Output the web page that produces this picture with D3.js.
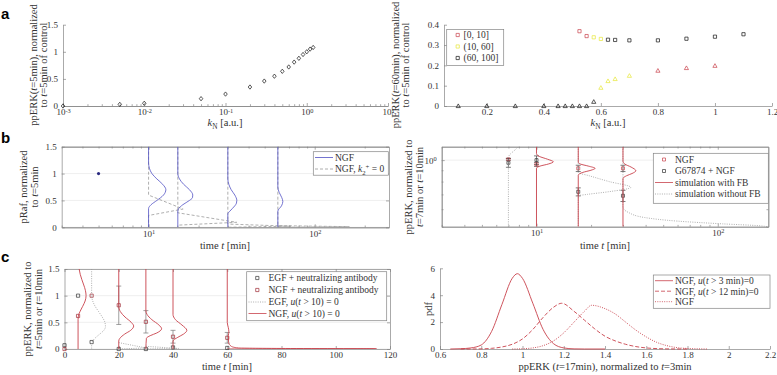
<!DOCTYPE html>
<html>
<head>
<meta charset="utf-8">
<script src="https://cdn.jsdelivr.net/npm/d3@7"></script>
<style>
  body { margin: 0; background: #fff; }
  svg { font-family: "Liberation Serif", "DejaVu Serif", serif; }
</style>
</head>
<body>
<svg id="fig" width="777" height="375"></svg>
<script>
/* ---------- DATA ---------- */
// a, left: ppERK(t=5min) vs kN
const aL_k = [0.001, 0.005, 0.01, 0.05, 0.1, 0.2, 0.3, 0.4, 0.5, 0.6, 0.7, 0.8, 0.9, 1.0, 1.1, 1.2];
const aL_v = [0, 0.03, 0.05, 0.135, 0.22, 0.35, 0.46, 0.55, 0.64, 0.72, 0.81, 0.88, 0.95, 1.0, 1.05, 1.08];

// a, right: ppERK(t=60min) vs kN, class 0=[0,10] 1=(10,60] 2=(60,100]
const aR_classes = ["[0, 10]", "(10, 60]", "(60, 100]"];
const aR_sqK = [0.525, 0.55, 0.575, 0.6, 0.625, 0.65, 0.7, 0.8, 0.9, 1.0, 1.1];
const aR_sqV = [0.368, 0.344, 0.338, 0.33, 0.326, 0.325, 0.323, 0.323, 0.331, 0.341, 0.353];
const aR_sqC = [0, 0, 1, 1, 2, 2, 2, 2, 2, 2, 2];
const aR_trK = [0.1, 0.2, 0.3, 0.4, 0.45, 0.475, 0.5, 0.525, 0.55, 0.575, 0.6, 0.625, 0.65, 0.7, 0.8, 0.9, 1.0];
const aR_trV = [0, 0, 0, 0, 0, 0, 0, 0, 0, 0.021, 0.09, 0.123, 0.133, 0.149, 0.174, 0.187, 0.198];
const aR_trC = [2, 2, 2, 2, 2, 2, 2, 2, 2, 2, 1, 1, 1, 1, 0, 0, 0];

// b, left: pRaf densities (v = value, w = width in decades of time)
const bL_dotT = [5], bL_dotV = [1];
const bL_ngf = [
  {t: 10, v: [1.5, 1.2, 1.1, 1.0, 0.9, 0.8, 0.7, 0.6, 0.5, 0.42, 0.35, 0], w: [0, 0, 0.005, 0.02, 0.05, 0.085, 0.104, 0.09, 0.05, 0.015, 0, 0]},
  {t: 15, v: [1.5, 1.0, 0.9, 0.8, 0.7, 0.6, 0.55, 0.5, 0.42, 0.35, 0.3, 0], w: [0, 0, 0.01, 0.035, 0.07, 0.09, 0.088, 0.07, 0.03, 0.005, 0, 0]},
  {t: 30, v: [1.5, 0.9, 0.8, 0.7, 0.6, 0.5, 0.45, 0.4, 0.3, 0.25, 0], w: [0, 0, 0.006, 0.02, 0.042, 0.054, 0.052, 0.042, 0.012, 0, 0]},
  {t: 60, v: [1.5, 0.75, 0.65, 0.55, 0.48, 0.4, 0.3, 0], w: [0, 0, 0.008, 0.024, 0.03, 0.022, 0, 0]}
];
const bL_k0 = [
  {t: 10, v: [1.5, 0.6, 0.34, 0.22, 0], w: [0, 0, 0.208, 0, 0]},
  {t: 15, v: [1.5, 0.27, 0.093, 0.04, 0], w: [0, 0, 0.354, 0, 0]},
  {t: 30, v: [1.5, 0.06, 0.02, 0], w: [0, 0, 0.38, 0]},
  {t: 60, v: [1.5, 0.03, 0.012, 0], w: [0, 0, 0.43, 0]}
];

// b, right: ppERK data and simulations
const bR_t = [7, 10, 17, 30];
const bR_ngf = [1.008, 0.957, 0.918, 0.918];
const bR_ngfErr = [0.01, 0.02, 0.03, 0.03];
const bR_g67 = [0.973, 1.0, 0.719, 0.69];
const bR_g67Err = [0.045, 0.045, 0.03, 0.04];
const bR_fb = [
  {t: 10, v: [1.15, 1.07, 1.04, 1.01, 0.983, 0.96, 0.94, 0.92, 0.5], w: [0, 0, 0.015, 0.06, 0.093, 0.065, 0.02, 0, 0]},
  {t: 17, v: [1.15, 0.98, 0.96, 0.94, 0.918, 0.9, 0.88, 0.855, 0.5], w: [0, 0, 0.012, 0.055, 0.093, 0.07, 0.025, 0, 0]},
  {t: 30, v: [1.15, 0.99, 0.96, 0.93, 0.895, 0.87, 0.85, 0.825, 0.5], w: [0, 0, 0.01, 0.045, 0.071, 0.05, 0.02, 0, 0]}
];
const bR_nofb = [
  {t: 7, v: [1.3, 1.2, 1.15, 1.1, 1.06, 1.03, 0.5], w: [0.07, 0.075, 0.055, 0.03, 0.008, 0, 0]},
  {t: 17, v: [1.15, 0.88, 0.85, 0.8, 0.753, 0.72, 0.7, 0.69, 0.5], w: [0, 0, 0.06, 0.17, 0.29, 0.17, 0.05, 0, 0]},
  {t: 30, v: [1.15, 0.62, 0.6, 0.58, 0.55, 0.53, 0.515, 0.505, 0.48, 0.45], w: [0, 0, 0.005, 0.03, 0.12, 0.3, 0.55, 0.75, 0.9, 0.95]}
];

// c, left: ppERK after neutralizing antibody (width w in minutes)
const cL_t = [0, 5, 10, 20, 30, 40, 60];
const cL_egf = [0.07, 1.0, 0.13, 0, 0, 0.03, 0.02];
const cL_egfErr = [0, 0, 0, 0, 0, 0, 0];
const cL_ngf = [0, 0.62, 1.0, 0.82, 0.51, 0.23, 0.21];
const cL_ngfErr = [0, 0, 0, 0.36, 0.21, 0.12, 0.1];
const cL_simNgf = [
  {t: 5, v: [1.5, 1.4, 1.3, 1.2, 1.1, 1.0, 0.9, 0.8, 0.7, 0.62, 0.55, 0], w: [0.4, 0.8, 1.4, 2.1, 2.7, 2.95, 2.6, 1.7, 0.7, 0.1, 0, 0]},
  {t: 20, v: [1.5, 0.8, 0.7, 0.6, 0.5, 0.43, 0.35, 0.28, 0.2, 0.15, 0], w: [0, 0, 0.6, 2.3, 4.6, 5.5, 4.4, 2.2, 0.4, 0, 0]},
  {t: 30, v: [1.5, 0.72, 0.65, 0.55, 0.45, 0.38, 0.3, 0.25, 0.2, 0], w: [0, 0, 0.4, 2.2, 4.8, 5.8, 4.0, 1.6, 0.2, 0]},
  {t: 40, v: [1.5, 0.65, 0.55, 0.45, 0.35, 0.28, 0.22, 0.15, 0], w: [0, 0, 0.9, 3.3, 5.1, 3.9, 1.8, 0, 0]},
  {t: 60, v: [1.5, 0.5, 0.4, 0.32, 0.25, 0.12, 0.05, 0.02, 0.01, 0.004, 0], w: [0, 0, 0.4, 0.6, 0.4, 0.5, 1.5, 4, 20, 55, 0]}
];
const cL_simEgf = [
  {t: 10, v: [1.5, 1.0, 0.9, 0.8, 0.7, 0.6, 0.5, 0.42, 0.35, 0.28, 0.2, 0.15, 0.1, 0], w: [0, 0, 0.4, 1.3, 2.6, 3.9, 4.9, 5.1, 4.5, 3.0, 1.2, 0.4, 0, 0]},
  {t: 20, v: [0.12, 0.02, 0], w: [0, 10, 0]},
  {t: 30, v: [0.05, 0.01, 0], w: [0, 12, 0]}
];

// c, right: pdf of ppERK(t=17min)
const cR_x1 = [0.65, 0.7, 0.75, 0.8, 0.85, 0.9, 0.95, 0.975, 1.0, 1.05, 1.1, 1.15, 1.2, 1.25, 1.3, 1.4];
const cR_y1 = [0, 0.02, 0.08, 0.3, 1.3, 3.3, 5.25, 5.6, 5.25, 3.4, 1.45, 0.4, 0.08, 0.01, 0, 0];
const cR_x2 = [0.7, 0.8, 0.85, 0.9, 0.95, 1.0, 1.05, 1.1, 1.15, 1.19, 1.25, 1.3, 1.35, 1.4, 1.45, 1.5, 1.55, 1.6, 1.7, 1.8];
const cR_y2 = [0, 0.01, 0.05, 0.15, 0.35, 0.75, 1.45, 2.35, 3.1, 3.4, 2.8, 2.15, 1.5, 0.95, 0.6, 0.35, 0.18, 0.08, 0.01, 0];
const cR_x3 = [0.95, 1.0, 1.05, 1.1, 1.15, 1.2, 1.25, 1.3, 1.335, 1.4, 1.45, 1.5, 1.55, 1.6, 1.65, 1.7, 1.75, 1.8, 1.9];
const cR_y3 = [0, 0.02, 0.08, 0.25, 0.6, 1.2, 2.0, 2.8, 3.25, 3.0, 2.6, 2.0, 1.4, 0.9, 0.5, 0.25, 0.1, 0.04, 0];
const cR_labels = ["NGF, *u*(*t* > 3 min)=0", "NGF, *u*(*t* > 12 min)=0", "NGF"];

/* ---------- HELPERS ---------- */
const svg = d3.select("#fig");
const TXT = "#333", AX = "#858585";
const RED = "#c8414b", DRED = "#9e2a33", YEL = "#e6e637", BLUE = "#5050c4", GRY = "#9a9a9a";
const FT = 9, FL = 9.5, FX = 10.5;   // tick, legend, axis-label font sizes

function styleAxis(g) {
  g.attr("font-family", null).attr("font-size", FT);
  g.select(".domain").attr("stroke", AX).attr("stroke-width", 0.7);
  g.selectAll(".tick line").attr("stroke", AX).attr("stroke-width", 0.7);
  g.selectAll(".tick text").attr("fill", TXT);
}
function pow10(g) {
  g.selectAll(".tick text").each(function(d) {
    const e = Math.round(Math.log10(d));
    const t = d3.select(this).text("10");
    t.append("tspan").attr("dy", "-0.45em").attr("font-size", "0.7em").text(e);
  });
}
function frame(g, x, y, o) {
  const [yb, yt] = y.range();
  const x0 = x.range()[0], x1 = x.range()[1];
  if (o.grid) o.yMajor.forEach(v => g.append("line").attr("x1", x0).attr("x2", x1).attr("y1", y(v)).attr("y2", y(v))
    .attr("stroke", "#e4e4e4").attr("stroke-width", 0.6));
  const mk = (gen, tr, vals, size, fmt, pad) => {
    const a = g.append("g").attr("transform", tr)
      .call(gen.tickValues(vals).tickSizeInner(size).tickSizeOuter(0).tickPadding(pad).tickFormat(fmt));
    styleAxis(a);
    return a;
  };
  const none = () => "";
  const bx = mk(d3.axisBottom(x), `translate(0,${yb})`, o.xMajor, -3, o.xLog ? none : (d => String(d)), o.xLog ? 3 : 2.2);
  if (o.xLog) pow10(bx);
  if (o.xMinor) mk(d3.axisBottom(x), `translate(0,${yb})`, o.xMinor, -1.8, none, 0);
  const ly = mk(d3.axisLeft(y), `translate(${x0},0)`, o.yMajor, -3, o.yLog ? none : (d => String(d)), 5);
  if (o.yLog) pow10(ly);
  if (o.yMinor) mk(d3.axisLeft(y), `translate(${x0},0)`, o.yMinor, -1.8, none, 0);
  if (o.box) {
    mk(d3.axisTop(x), `translate(0,${yt})`, o.xMajor, -3, none, 0);
    if (o.xMinor) mk(d3.axisTop(x), `translate(0,${yt})`, o.xMinor, -1.8, none, 0);
    mk(d3.axisRight(y), `translate(${x1},0)`, o.yMajor, -3, none, 0);
    if (o.yMinor) mk(d3.axisRight(y), `translate(${x1},0)`, o.yMinor, -1.8, none, 0);
  }
}
function rich(g, x, y, str, fs, rot, anchor) {
  const t = g.append("text").attr("fill", TXT).attr("font-size", fs).attr("text-anchor", anchor || "middle");
  if (rot) t.attr("transform", `translate(${x},${y}) rotate(-90)`);
  else t.attr("x", x).attr("y", y);
  let shift = rot ? -0.35 * fs : 0;
  str.split(/(\*[^*]+\*|_\{[^}]+\}|\^\{[^}]+\})/).filter(s => s).forEach(s => {
    const sp = t.append("tspan");
    let target = 0, txt = s;
    if (s[0] === "*") { txt = s.slice(1, -1); sp.attr("font-style", "italic"); }
    else if (s[0] === "_") { txt = s.slice(2, -1); target = 0.3 * fs; sp.attr("font-size", fs * 0.7); }
    else if (s[0] === "^") { txt = s.slice(2, -1); target = -0.4 * fs; sp.attr("font-size", fs * 0.7); }
    sp.attr("dy", target - shift).text(txt);
    shift = target;
  });
  return t;
}
function clip(id, x, y) {
  const [xa, xb] = x.range(), [ya, yb] = y.range();
  svg.append("clipPath").attr("id", id).append("rect")
    .attr("x", xa).attr("y", yb).attr("width", xb - xa).attr("height", ya - yb);
  return svg.append("g").attr("clip-path", `url(#${id})`);
}
function violin(g, x, y, d, logX, color, dash, width, curve) {
  const pts = d.v.map((v, i) => [logX ? x(d.t * Math.pow(10, d.w[i])) : x(d.t + d.w[i]), y(v)]);
  g.append("path").attr("d", d3.line().curve(curve || d3.curveMonotoneY)(pts))
    .attr("fill", "none").attr("stroke", color).attr("stroke-width", width || 0.8)
    .attr("stroke-dasharray", dash || null);
}
function marker(g, type, cx, cy, color, s) {
  s = s || 1.7;
  let p;
  if (type === "sq") p = `M${cx - s},${cy - s}h${2 * s}v${2 * s}h${-2 * s}Z`;
  else if (type === "tri") p = `M${cx},${cy - s * 1.3}L${cx + s * 1.3},${cy + s}L${cx - s * 1.3},${cy + s}Z`;
  else p = `M${cx},${cy - s * 1.35}L${cx + s * 1.1},${cy}L${cx},${cy + s * 1.35}L${cx - s * 1.1},${cy}Z`;
  g.append("path").attr("d", p).attr("fill", "none").attr("stroke", color).attr("stroke-width", 0.7);
}
function errbar(g, cx, y, v, e, color) {
  if (!e) return;
  const a = y(v + e), b = y(Math.max(v - e, 1e-3));
  g.append("line").attr("x1", cx).attr("x2", cx).attr("y1", a).attr("y2", b).attr("stroke", color).attr("stroke-width", 0.7);
  [a, b].forEach(yy => g.append("line").attr("x1", cx - 2.5).attr("x2", cx + 2.5).attr("y1", yy).attr("y2", yy)
    .attr("stroke", color).attr("stroke-width", 0.7));
}
function legendBox(x, y, w, h) {
  svg.append("rect").attr("x", x).attr("y", y).attr("width", w).attr("height", h)
    .attr("fill", "#fff").attr("stroke", AX).attr("stroke-width", 0.7);
}
function legLine(x, y, color, dash) {
  svg.append("line").attr("x1", x).attr("x2", x + 18).attr("y1", y).attr("y2", y)
    .attr("stroke", color).attr("stroke-width", 0.8).attr("stroke-dasharray", dash || null);
}
const logTicks = (a, b) => { const r = []; for (let e = a; e < b; e++) for (let m = 2; m <= 9; m++) r.push(m * Math.pow(10, e)); return r; };

/* ---------- PANEL LETTERS ---------- */
[["a", 19], ["b", 143], ["c", 262]].forEach(([l, yy]) =>
  svg.append("text").attr("x", 1).attr("y", yy).attr("font-family", "Liberation Sans, Arial, sans-serif")
    .attr("font-weight", "bold").attr("font-size", 15).attr("fill", "#000").text(l));

/* ---------- a, left ---------- */
{
  const x = d3.scaleLog().domain([1e-3, 1e1]).range([63, 388]);
  const y = d3.scaleLinear().domain([0, 1.5]).range([106, 24.7]);
  const g = svg.append("g");
  frame(g, x, y, {xMajor: [1e-3, 1e-2, 1e-1, 1, 10], xMinor: logTicks(-3, 1), xLog: true, yMajor: [0, 0.5, 1, 1.5]});
  aL_k.forEach((k, i) => marker(g, "dia", x(k), y(aL_v[i]), "#111", 1.6));
  rich(svg, 225, 126, "*k*_{N} [a.u.]", FX);
  rich(svg, 33.5, 65, "ppERK(*t*=5min), normalized", FX, true);
  rich(svg, 43.5, 65, "to *t*=5min of control", FX, true);
}

/* ---------- a, right ---------- */
{
  const x = d3.scaleLinear().domain([0.05, 1.2]).range([444, 772]);
  const y = d3.scaleLinear().domain([0, 0.4]).range([106, 24.7]);
  const g = svg.append("g");
  const cols = [RED, YEL, "#111"];
  frame(g, x, y, {xMajor: [0.2, 0.4, 0.6, 0.8, 1, 1.2], yMajor: [0, 0.1, 0.2, 0.3, 0.4]});
  aR_trK.forEach((k, i) => marker(g, "tri", x(k), y(aR_trV[i]), cols[aR_trC[i]], 1.6));
  aR_sqK.forEach((k, i) => marker(g, "sq", x(k), y(aR_sqV[i]), cols[aR_sqC[i]], 1.6));
  legendBox(446.7, 29.5, 57, 36);
  aR_classes.forEach((c, i) => {
    marker(svg, "sq", 457.7, 35 + i * 11.5, cols[i], 1.6);
    rich(svg, 463.5, 38.3 + i * 11.5, c, FL, false, "start");
  });
  rich(svg, 608, 126, "*k*_{N} [a.u.]", FX);
  rich(svg, 395.5, 65, "ppERK(*t*=60min), normalized", FX, true);
  rich(svg, 405.5, 65, "to *t*=5min of control", FX, true);
}

/* ---------- b, left ---------- */
{
  const x = d3.scaleLog().domain([3, 280]).range([61.7, 389]);
  const y = d3.scaleLinear().domain([0, 1.5]).range([227.3, 146.7]);
  const g = svg.append("g");
  frame(g, x, y, {xMajor: [10, 100], xMinor: [3, 4, 5, 6, 7, 8, 9, 20, 30, 40, 50, 60, 70, 80, 90, 200], xLog: true,
    yMajor: [0, 0.5, 1, 1.5], box: true, grid: true});
  const c = clip("clipBL", x, y);
  bL_k0.forEach(d => violin(c, x, y, d, true, GRY, "3,2", 0.8, d3.curveLinear));
  bL_ngf.forEach(d => violin(c, x, y, d, true, BLUE, null, 0.8));
  bL_dotT.forEach((t, i) => c.append("circle").attr("cx", x(t)).attr("cy", y(bL_dotV[i])).attr("r", 1.6).attr("fill", "#2a2a80"));
  legendBox(313.3, 151.7, 75, 23.5);
  legLine(315, 157.5, BLUE); rich(svg, 335, 160.8, "NGF", FL, false, "start");
  legLine(315, 169, GRY, "3,2"); rich(svg, 335, 172.3, "NGF, *k*_{2}^{+} = 0", FL, false, "start");
  rich(svg, 225, 248.5, "time *t* [min]", FX);
  rich(svg, 23.5, 187, "pRaf, normalized", FX, true);
  rich(svg, 34, 187, "to *t*=5min", FX, true);
}

/* ---------- b, right ---------- */
{
  const x = d3.scaleLog().domain([3, 190]).range([441.7, 768.3]);
  const y = d3.scaleLog().domain([0.5, 1.15]).range([226.7, 146.7]);
  const g = svg.append("g");
  frame(g, x, y, {xMajor: [10, 100], xMinor: [3, 4, 5, 6, 7, 8, 9, 20, 30, 40, 50, 60, 70, 80, 90], xLog: true,
    yMajor: [1], yMinor: [0.5, 0.6, 0.7, 0.8, 0.9], yLog: true, box: true, grid: true});
  const c = clip("clipBR", x, y);
  bR_nofb.forEach(d => violin(c, x, y, d, true, GRY, "1,1.3", 0.8));
  bR_fb.forEach(d => violin(c, x, y, d, true, RED, null, 0.9));
  bR_t.forEach((t, i) => {
    errbar(g, x(t), y, bR_ngf[i], bR_ngfErr[i], "#444");
    errbar(g, x(t), y, bR_g67[i], bR_g67Err[i], "#444");
    marker(g, "sq", x(t), y(bR_ngf[i]), RED, 1.5);
    marker(g, "sq", x(t), y(bR_g67[i]), "#333", 1.5);
  });
  legendBox(653.3, 153.3, 115, 50);
  marker(svg, "sq", 664, 159.5, RED, 1.5); rich(svg, 675, 162.8, "NGF", FL, false, "start");
  marker(svg, "sq", 664, 171, "#333", 1.5); rich(svg, 675, 174.3, "G67874 + NGF", FL, false, "start");
  legLine(655, 182.5, RED); rich(svg, 675, 185.8, "simulation with FB", FL, false, "start");
  legLine(655, 194, GRY, "1,1.3"); rich(svg, 675, 197.3, "simulation without FB", FL, false, "start");
  rich(svg, 605, 248.5, "time *t* [min]", FX);
  rich(svg, 408.5, 187, "ppERK, normalized to", FX, true);
  rich(svg, 419, 187, "*t*=7min or *t*=10min", FX, true);
}

/* ---------- c, left ---------- */
{
  const x = d3.scaleLinear().domain([0, 120]).range([64.5, 390]);
  const y = d3.scaleLinear().domain([0, 1.5]).range([349, 269]);
  const g = svg.append("g");
  frame(g, x, y, {xMajor: [0, 20, 40, 60, 80, 100, 120], yMajor: [0, 0.5, 1, 1.5], box: true, grid: true});
  const c = clip("clipCL", x, y);
  cL_simEgf.forEach(d => violin(c, x, y, d, false, GRY, "1,1.3", 0.8, d.v.length < 4 ? d3.curveLinear : d3.curveMonotoneY));
  cL_simNgf.forEach(d => violin(c, x, y, d, false, RED, null, 0.9));
  cL_t.forEach((t, i) => {
    errbar(g, x(t), y, cL_ngf[i], cL_ngfErr[i], "#777");
    errbar(g, x(t), y, cL_egf[i], cL_egfErr[i], "#777");
    marker(g, "sq", x(t), y(cL_egf[i]), "#333", 1.6);
    marker(g, "sq", x(t), y(cL_ngf[i]), DRED, 1.6);
  });
  legendBox(246.7, 271.7, 140, 49);
  marker(svg, "sq", 257.3, 278, "#333", 1.6); rich(svg, 268.5, 281.3, "EGF + neutralizing antibody", FL, false, "start");
  marker(svg, "sq", 257.3, 290, DRED, 1.6); rich(svg, 268.5, 293.3, "NGF + neutralizing antibody", FL, false, "start");
  legLine(248.5, 302, GRY, "1,1.3"); rich(svg, 268.5, 305.3, "EGF, *u*(*t* > 10) = 0", FL, false, "start");
  legLine(248.5, 313.5, RED); rich(svg, 268.5, 316.8, "NGF, *u*(*t* > 10) = 0", FL, false, "start");
  rich(svg, 227, 370, "time *t* [min]", FX);
  rich(svg, 27.5, 309, "ppERK, normalized to", FX, true);
  rich(svg, 38, 309, "*t*=5min or *t*=10min", FX, true);
}

/* ---------- c, right ---------- */
{
  const x = d3.scaleLinear().domain([0.6, 2.2]).range([440, 770]);
  const y = d3.scaleLinear().domain([0, 6]).range([349, 268.3]);
  const g = svg.append("g");
  frame(g, x, y, {xMajor: [0.6, 0.8, 1, 1.2, 1.4, 1.6, 1.8, 2, 2.2], yMajor: [0, 2, 4, 6]});
  const line = d3.line().curve(d3.curveMonotoneX);
  const series = [[cR_x1, cR_y1, null], [cR_x2, cR_y2, "4,2"], [cR_x3, cR_y3, "1,1.3"]];
  series.forEach(([xs, ys, dash]) => g.append("path")
    .attr("d", line(xs.map((v, i) => [x(v), y(ys[i])])))
    .attr("fill", "none").attr("stroke", RED).attr("stroke-width", 0.9).attr("stroke-dasharray", dash));
  legendBox(653.3, 275, 116.7, 33.3);
  series.forEach(([, , dash], i) => {
    legLine(655, 280.7 + i * 10.5, RED, dash);
    rich(svg, 675, 284 + i * 10.5, cR_labels[i], FL, false, "start");
  });
  rich(svg, 605, 370, "ppERK (*t*=17min), normalized to *t*=3min", FX);
  rich(svg, 428, 309, "pdf", FX, true);
}
</script>
</body>
</html>
